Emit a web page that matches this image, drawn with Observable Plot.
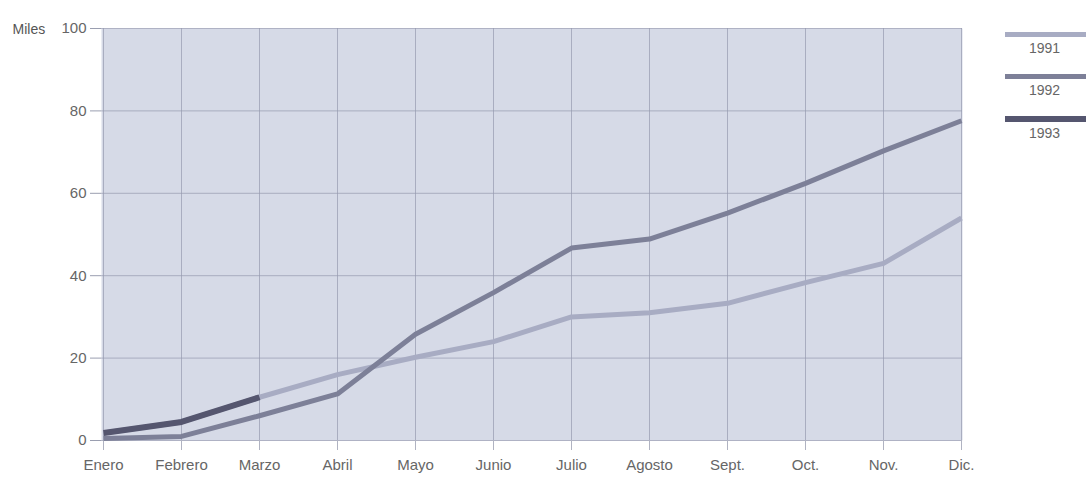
<!DOCTYPE html>
<html>
<head>
<meta charset="utf-8">
<script src="https://cdn.jsdelivr.net/npm/d3@7"></script>
<script src="https://cdn.jsdelivr.net/npm/@observablehq/plot@0.6"></script>
<style>
  html, body { margin: 0; padding: 0; background: #fff; }
  #wrap { position: relative; width: 1086px; height: 479px; font-family: "Liberation Sans", Arial, sans-serif; }
  .leg { position: absolute; left: 1005px; width: 81px; }
  .leg .lb { text-align: center; font-size: 14px; color: #666; margin-top: 3px; padding-right: 2px; }
</style>
</head>
<body>
<div id="wrap"></div>
<script>
const months = ["Enero","Febrero","Marzo","Abril","Mayo","Junio","Julio","Agosto","Sept.","Oct.","Nov.","Dic."];
const v1991 = [1.8, 4.5, 10.5, 16, 20.2, 24, 30, 31, 33.3, 38.3, 43, 54];
const v1992 = [0.5, 1, 6, 11.3, 25.8, 35.9, 46.7, 48.9, 55.2, 62.4, 70.3, 77.6];
const v1993 = [1.8, 4.5, 10.5];
const years = ["1991", "1992", "1993"];
const yTicks = [0, 20, 40, 60, 80, 100];
const colors = {"1991": "#a8acc3", "1992": "#7d8098", "1993": "#55566f"};
const widths = {"1991": 5, "1992": 5, "1993": 6};

const series = {"1991": v1991, "1992": v1992, "1993": v1993};
const data = years.flatMap(y => series[y].map((v, i) => ({year: y, month: months[i], value: v})));

const chart = Plot.plot({
  width: 1086,
  height: 479,
  marginLeft: 101,
  marginRight: 124,
  marginTop: 28,
  marginBottom: 39,
  style: {fontFamily: '"Liberation Sans", Arial, sans-serif', fontSize: "15px", color: "#666", background: "transparent"},
  x: {type: "point", domain: months, padding: 0},
  y: {domain: [0, 100], ticks: yTicks},
  marks: [
    Plot.frame({fill: "#d6dae7", stroke: null}),
    Plot.gridY(yTicks, {stroke: "#959aaf", strokeOpacity: 0.7, strokeWidth: 1}),
    Plot.gridX(months, {stroke: "#959aaf", strokeOpacity: 0.7, strokeWidth: 1}),
    Plot.axisY(yTicks, {tickSize: 11, tickPadding: 4, stroke: "#9a9eb0", label: null, fontSize: 15, fill: "#666"}),
    Plot.axisX(months, {tickSize: 10, tickPadding: 9, stroke: "#b0b3c2", label: null, fontSize: 15, fill: "#666"}),
    ...years.map(y => Plot.line(data.filter(d => d.year === y), {
      x: "month", y: "value", stroke: colors[y], strokeWidth: widths[y], strokeLinejoin: "round", strokeLinecap: "butt"
    })),
    Plot.text(["Miles"], {frameAnchor: "top-left", dx: -89, dy: -4, textAnchor: "start", fontSize: 14, fill: "#555"})
  ]
});

const wrap = document.getElementById("wrap");
chart.style.position = "absolute";
chart.style.left = "0";
chart.style.top = "0";
wrap.appendChild(chart);

const legTops = [32, 74, 116];
years.forEach((y, i) => {
  const d = document.createElement("div");
  d.className = "leg";
  d.style.top = legTops[i] + "px";
  d.innerHTML = `<div style="background:${colors[y]};height:${widths[y]}px"></div><div class="lb">${y}</div>`;
  wrap.appendChild(d);
});
</script>
</body>
</html>
